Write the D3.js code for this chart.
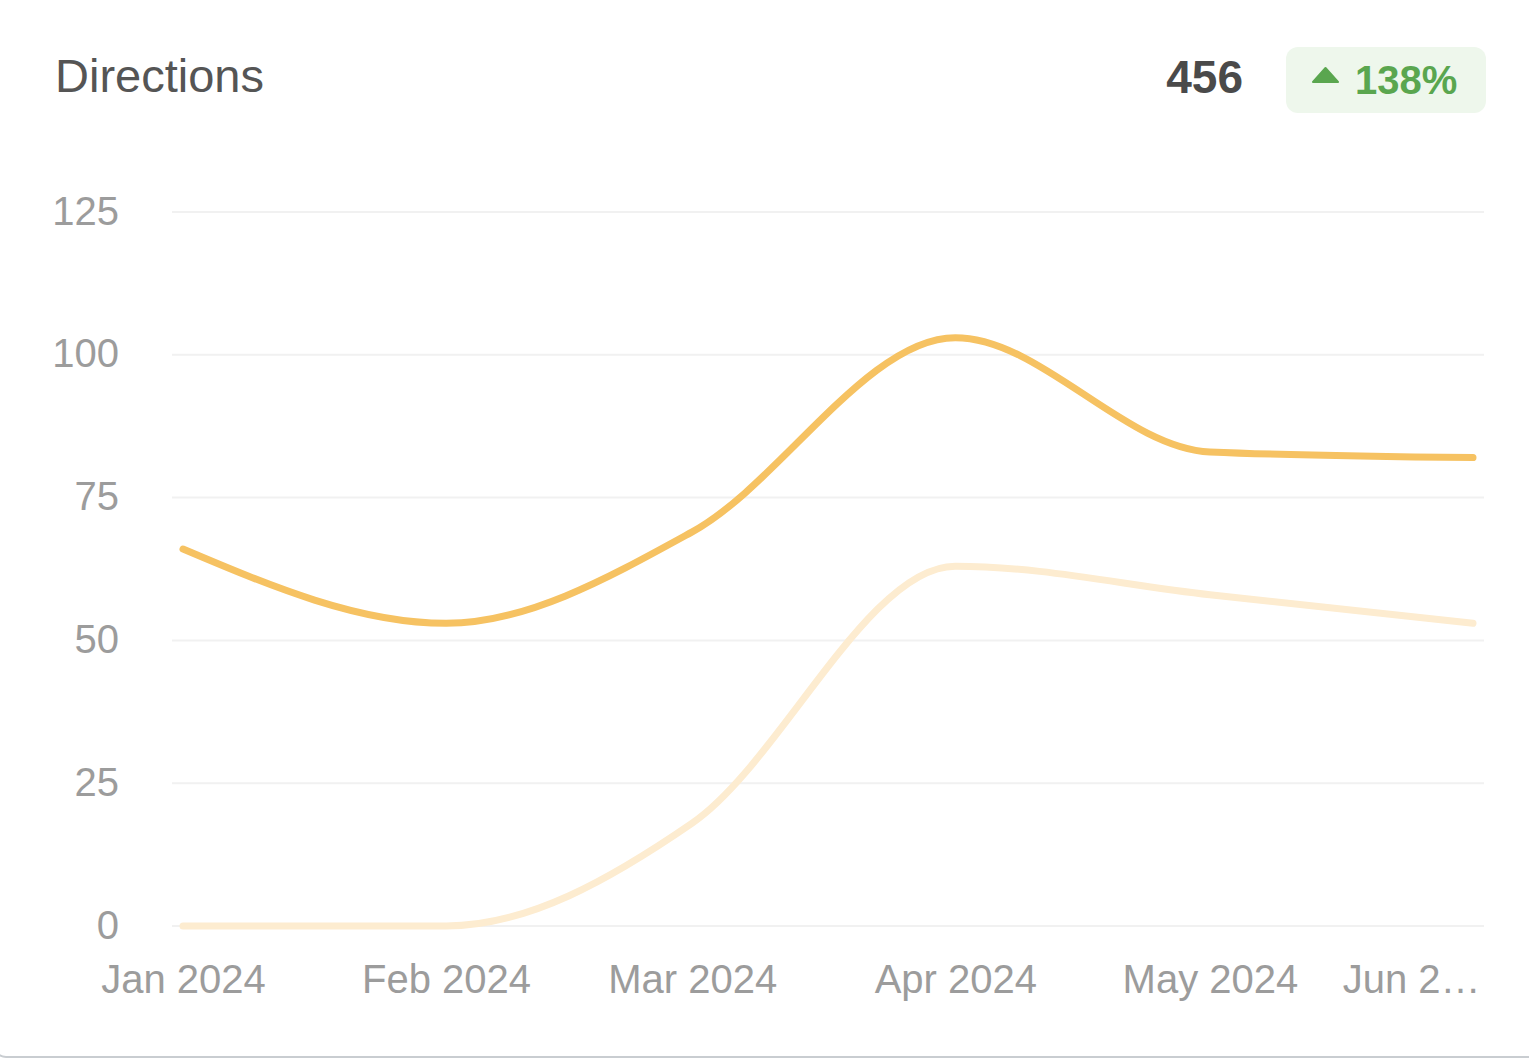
<!DOCTYPE html>
<html><head><meta charset="utf-8">
<script src="https://cdn.jsdelivr.net/npm/d3@7"></script>
<style>
html,body{margin:0;padding:0;background:#fff;}
svg{display:block;font-family:"Liberation Sans",Arial,sans-serif;}
</style></head>
<body>
<svg id="c" width="1529" height="1059"></svg>
<script>
const dates = ["2024-01-01","2024-02-01","2024-03-01","2024-04-01","2024-05-01","2024-06-01"];
const currentValues = [66, 53, 69, 103, 83, 82];
const previousValues = [0, 0, 18, 63, 58, 53];
const yTicks = [0, 25, 50, 75, 100, 125];
const xTickLabels = ["Jan 2024","Feb 2024","Mar 2024","Apr 2024","May 2024","Jun 2…"];
const title = "Directions";
const total = "456";
const change = "138%";

const parse = d3.utcParse("%Y-%m-%d");
const dts = dates.map(parse);

const svg = d3.select("#c");
// card
svg.append("rect").attr("x",-6).attr("y",-30).attr("width",1570).attr("height",1087)
  .attr("rx",12).attr("fill","#fff").attr("stroke","#c9cdd1").attr("stroke-width",2);

svg.append("text").attr("x",55).attr("y",92).attr("font-size",47).attr("fill","#555")
  .text(title);
svg.append("text").attr("x",1243).attr("y",93).attr("text-anchor","end")
  .attr("font-size",46).attr("font-weight","bold").attr("fill","#4a4a4a").text(total);
svg.append("rect").attr("x",1286).attr("y",47).attr("width",200).attr("height",66)
  .attr("rx",12).attr("fill","#eef7ec");
svg.append("path").attr("d","M1313,82 L1325.5,68 L1338,82 Z").attr("fill","#5aa64f")
  .attr("stroke","#5aa64f").attr("stroke-width",2).attr("stroke-linejoin","round");
svg.append("text").attr("x",1355).attr("y",94).attr("font-size",40).attr("font-weight","bold")
  .attr("fill","#5aa64f").text(change);

const x = d3.scaleUtc().domain([dts[0], dts[dts.length-1]]).range([183, 1473]);
const y = d3.scaleLinear().domain([0,125]).range([926, 212]);

// grid
svg.append("g").selectAll("line").data(yTicks).join("line")
  .attr("x1",172).attr("x2",1484).attr("y1",d=>y(d)).attr("y2",d=>y(d))
  .attr("stroke","#f1f1f1").attr("stroke-width",2);

const yAxis = svg.append("g").attr("transform","translate(119,0)")
  .call(d3.axisLeft(y).tickValues(yTicks).tickSize(0).tickPadding(0));
yAxis.select(".domain").remove();
yAxis.selectAll("text").attr("font-size",40).attr("fill","#9c9c9c")
  .attr("font-family","Liberation Sans, Arial, sans-serif").attr("dy","0.3em");

const xAxis = svg.append("g").attr("transform","translate(0,960)")
  .call(d3.axisBottom(x).tickValues(dts).tickSize(0).tickPadding(0)
    .tickFormat((d,i)=>xTickLabels[i]));
xAxis.select(".domain").remove();
xAxis.selectAll("text").attr("font-size",40).attr("fill","#9c9c9c")
  .attr("font-family","Liberation Sans, Arial, sans-serif").attr("dy","0.83em");
xAxis.selectAll("text").filter((d,i)=>i===dts.length-1)
  .attr("text-anchor","end").attr("x",1480 - x(dts[dts.length-1]));

const line = d3.line().x((d,i)=>x(dts[i])).y(d=>y(d)).curve(d3.curveMonotoneX);
svg.append("path").datum(previousValues).attr("d",line).attr("fill","none")
  .attr("stroke","#fdecd0").attr("stroke-width",7).attr("stroke-linecap","round");
svg.append("path").datum(currentValues).attr("d",line).attr("fill","none")
  .attr("stroke","#f6c262").attr("stroke-width",7).attr("stroke-linecap","round");
</script>
</body></html>
